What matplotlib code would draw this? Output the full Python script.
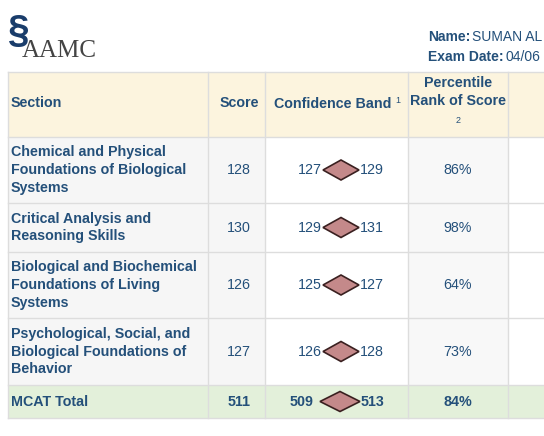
import matplotlib
matplotlib.use("Agg")
import matplotlib.pyplot as plt
from matplotlib.patches import Rectangle, Polygon

plt.rcParams['font.family'] = ['Liberation Sans', 'DejaVu Sans']

sections = ["Chemical and Physical\nFoundations of Biological\nSystems",
            "Critical Analysis and\nReasoning Skills",
            "Biological and Biochemical\nFoundations of Living\nSystems",
            "Psychological, Social, and\nBiological Foundations of\nBehavior",
            "MCAT Total"]
scores = [128, 130, 126, 127, 511]
band_low = [127, 129, 125, 126, 509]
band_high = [129, 131, 127, 128, 513]
percentiles = [86, 98, 64, 73, 84]

fig = plt.figure(figsize=(5.44, 4.36), dpi=100)
ax = fig.add_axes([0, 0, 1, 1])
ax.set_xlim(0, 544); ax.set_ylim(436, 0); ax.axis("off")
TC = "#24507a"
cols = [8, 208, 265, 408, 508, 560]
rows = [72, 137, 203, 252, 318, 385, 418]
grid = "#dddddd"
ax.add_patch(Rectangle((cols[0], rows[0]), 552, rows[1]-rows[0], fc="#fcf4de", ec="none"))
colbg = ["#f6f6f6", "#f6f6f6", "#ffffff", "#f8f8f8", "#ffffff"]
for r in range(4):
    for c in range(5):
        ax.add_patch(Rectangle((cols[c], rows[r+1]), cols[c+1]-cols[c], rows[r+2]-rows[r+1], fc=colbg[c], ec="none"))
ax.add_patch(Rectangle((cols[0], rows[5]), 552, rows[6]-rows[5], fc="#e3f0da", ec="none"))
for y in rows:
    ax.plot([cols[0], 544], [y, y], color=grid, lw=1)
for x in cols[:5]:
    ax.plot([x, x], [rows[0], rows[-1]], color=grid, lw=1)

fs = 10.3
ax.text(11, 103, "Section", color=TC, fontsize=fs, fontweight="bold", va="center")
ax.text(239, 103, "Score", color=TC, fontsize=fs, fontweight="bold", va="center", ha="center")
ax.text(333, 104, "Confidence Band", color=TC, fontsize=fs, fontweight="bold", va="center", ha="center")
ax.text(395, 100, "1", color=TC, fontsize=6.5, va="center")
ax.text(458, 92, "Percentile\nRank of Score", color=TC, fontsize=fs, fontweight="bold", va="center", ha="center", linespacing=1.4)
ax.text(458, 120, "2", color=TC, fontsize=6.5, va="center", ha="center")

for i in range(5):
    yc = (rows[i+1] + rows[i+2]) / 2
    bold = "bold" if i == 4 else "normal"
    ax.text(11, yc, sections[i], color=TC, fontsize=fs, fontweight="bold", va="center", linespacing=1.35)
    ax.text(239, yc, str(scores[i]), color=TC, fontsize=fs, fontweight=bold, va="center", ha="center")
    cx = 341
    if i < 4:
        half = (band_high[i] - band_low[i]) * 9
        gap = 1
    else:
        cx = 340
        half = (band_high[i] - band_low[i]) * 5
        gap = 7
    ax.add_patch(Polygon([(cx-half, yc), (cx, yc-10), (cx+half, yc), (cx, yc+10)],
                         fc="#c4898a", ec="#3a2020", lw=1.2))
    ax.text(cx-half-gap, yc, str(band_low[i]), color=TC, fontsize=fs, fontweight=bold, va="center", ha="right")
    ax.text(cx+half+1, yc, str(band_high[i]), color=TC, fontsize=fs, fontweight=bold, va="center", ha="left")
    ax.text(458, yc, f"{percentiles[i]}%", color=TC, fontsize=fs, fontweight=bold, va="center", ha="center")

ax.text(22, 62, "AAMC", family="Liberation Serif", fontsize=18, color="#444444", va="bottom")
ax.text(8, 32, "§", fontsize=28, color="#1a3d6b", va="center", fontweight="bold")
ax.text(428, 37, "Name:", color=TC, fontsize=10, fontweight="bold", va="center")
ax.text(472, 37, "SUMAN AL", color=TC, fontsize=10, va="center")
ax.text(428, 57, "Exam Date:", color=TC, fontsize=10, fontweight="bold", va="center")
ax.text(506, 57, "04/06", color=TC, fontsize=10, va="center")
fig.savefig("out.png", dpi=100)
